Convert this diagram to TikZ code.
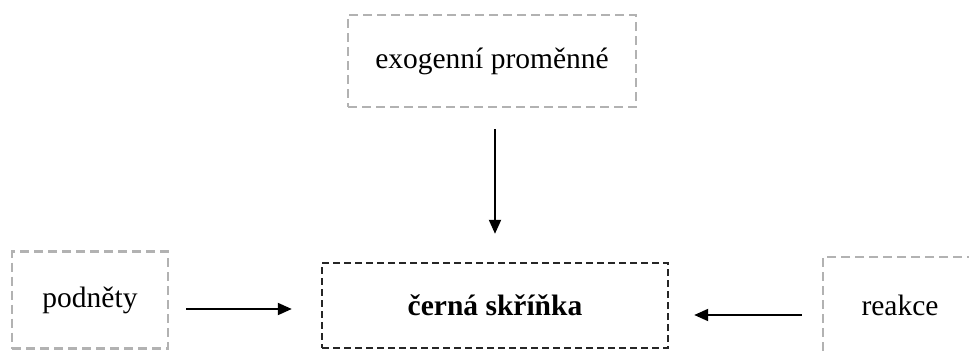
\documentclass[tikz,border=0pt]{standalone}
\usepackage{fontspec}
\setmainfont{Liberation Serif}
\usetikzlibrary{arrows.meta}
\begin{document}
\begin{tikzpicture}[x=1pt,y=-1pt,
  graybox/.style={draw=black!30, line width=2.4pt, dash pattern=on 9pt off 5pt, inner sep=0pt, font=\fontsize{29.5}{34}\selectfont},
  blackbox/.style={draw=black!85, line width=2.4pt, dash pattern=on 7pt off 4pt, inner sep=0pt, font=\fontsize{29.5}{34}\selectfont\bfseries},
  arr/.style={line width=2pt, -{Triangle[length=14pt,width=12pt]}}]
\useasboundingbox (0,0) rectangle (969,351);
\node[graybox, minimum width=288pt, minimum height=92pt] (exo) at (492,61) {exogenní proměnné};
\node[graybox, minimum width=156pt, minimum height=97pt] (pod) at (90,300) {podněty};
\node[blackbox, minimum width=346pt, minimum height=85pt] (black) at (495,305.5) {černá skříňka};
\node[graybox, minimum width=154pt, minimum height=97pt] (rea) at (900,305.5) {reakce};
\draw[arr, shorten <=21pt, shorten >=28pt] ([xshift=3pt]exo.south) -- (black.north);
\draw[arr, shorten <=17pt, shorten >=29pt] ([yshift=-9pt]pod.east) -- ([yshift=-9pt]pod.east -| black.west);
\draw[arr, shorten <=20pt, shorten >=25pt] ([yshift=-9.5pt]rea.west) -- ([yshift=-9.5pt]rea.west -| black.east);
\end{tikzpicture}
\end{document}
